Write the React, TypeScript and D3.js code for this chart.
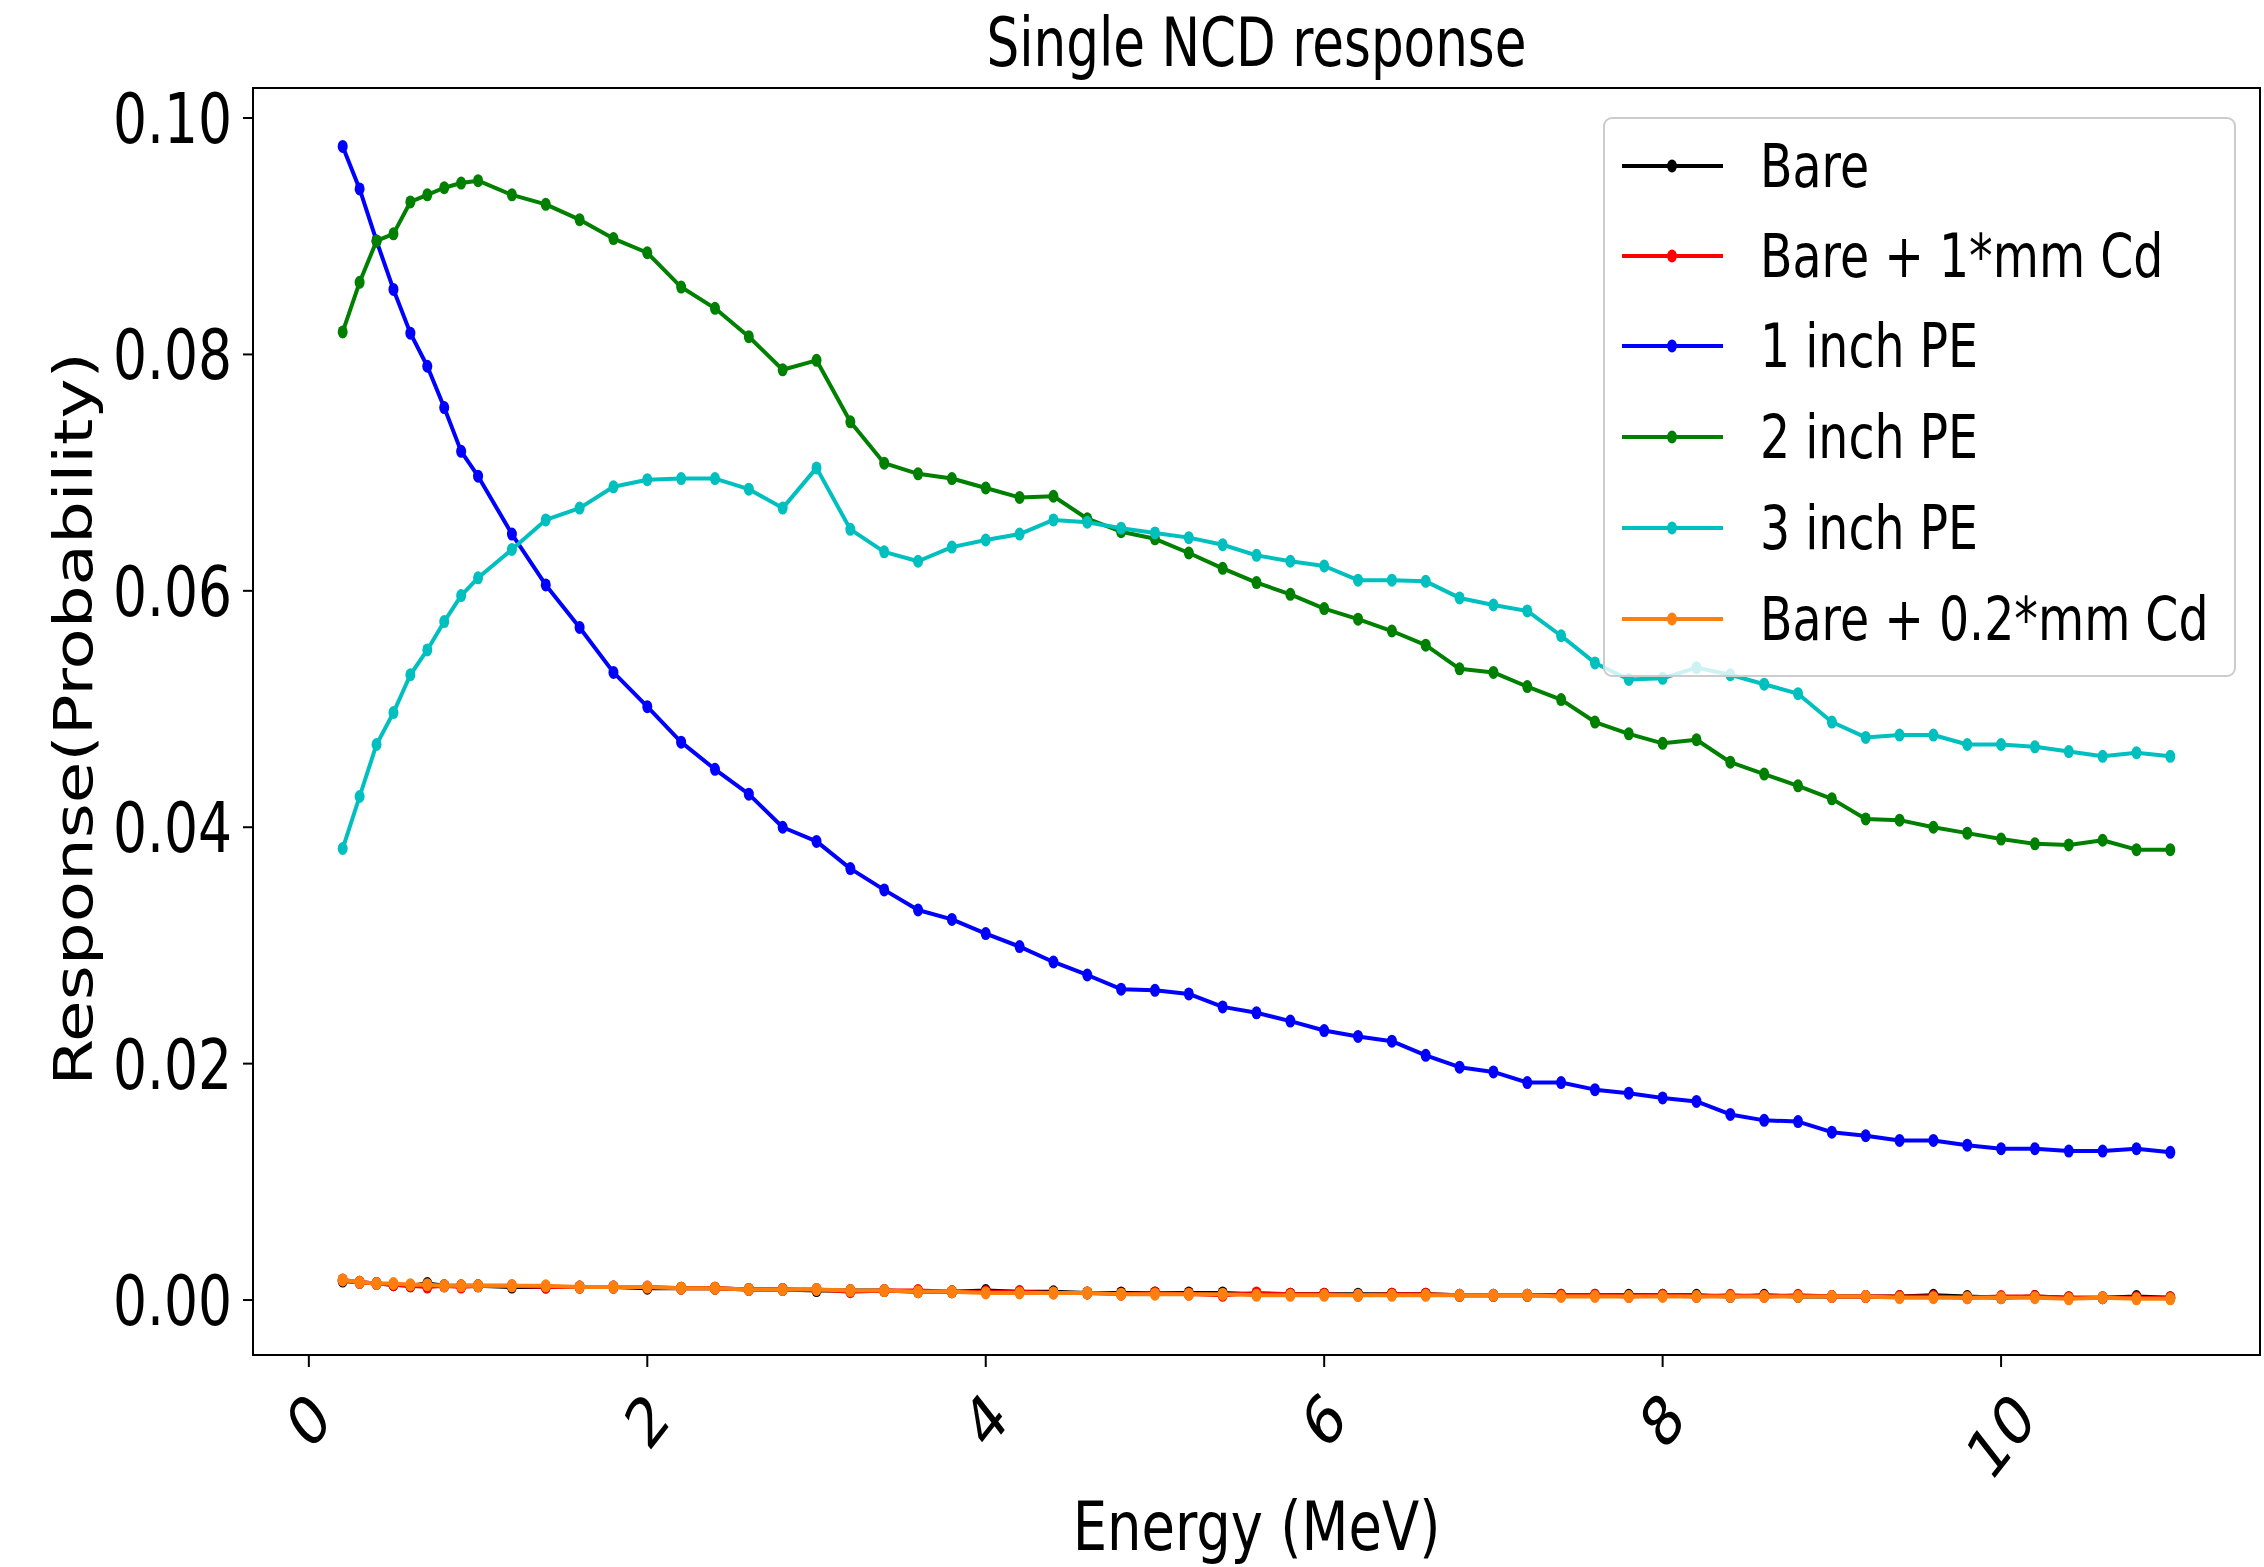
import React from "react";
import * as d3 from "d3";

const energies = [
  0.2, 0.3, 0.4, 0.5, 0.6, 0.7, 0.8, 0.9, 1.0,
  1.2, 1.4, 1.6, 1.8, 2.0, 2.2, 2.4, 2.6, 2.8, 3.0,
  3.2, 3.4, 3.6, 3.8, 4.0, 4.2, 4.4, 4.6, 4.8, 5.0,
  5.2, 5.4, 5.6, 5.8, 6.0, 6.2, 6.4, 6.6, 6.8, 7.0,
  7.2, 7.4, 7.6, 7.8, 8.0, 8.2, 8.4, 8.6, 8.8, 9.0,
  9.2, 9.4, 9.6, 9.8, 10.0, 10.2, 10.4, 10.6, 10.8, 11.0,
];

const bare = [
  0.0016, 0.0015, 0.0014, 0.0013, 0.0012, 0.0014, 0.0012, 0.0012, 0.0012,
  0.0011, 0.0011, 0.0011, 0.0011, 0.0010, 0.0010, 0.0010, 0.0009, 0.0009, 0.0008,
  0.0008, 0.0008, 0.0007, 0.0007, 0.0008, 0.0007, 0.0007, 0.0006, 0.0006, 0.0006,
  0.0006, 0.0006, 0.0005, 0.0005, 0.0005, 0.0005, 0.0005, 0.0005, 0.0004, 0.0004,
  0.0004, 0.0004, 0.0004, 0.0004, 0.0004, 0.0004, 0.0003, 0.0004, 0.0003, 0.0003,
  0.0003, 0.0003, 0.0004, 0.0003, 0.0002, 0.0003, 0.0002, 0.0002, 0.0003, 0.0002,
];

const bareCd1 = [
  0.0017, 0.0015, 0.0014, 0.0013, 0.0012, 0.0011, 0.0012, 0.0011, 0.0012,
  0.0012, 0.0011, 0.0011, 0.0011, 0.0011, 0.0010, 0.0010, 0.0009, 0.0009, 0.0009,
  0.0007, 0.0008, 0.0008, 0.0007, 0.0007, 0.0007, 0.0006, 0.0006, 0.0005, 0.0006,
  0.0005, 0.0004, 0.0006, 0.0005, 0.0005, 0.0004, 0.0005, 0.0005, 0.0004, 0.0004,
  0.0004, 0.0004, 0.0004, 0.0003, 0.0004, 0.0003, 0.0004, 0.0003, 0.0004, 0.0003,
  0.0003, 0.0003, 0.0003, 0.0002, 0.0003, 0.0003, 0.0002, 0.0002, 0.0002, 0.0002,
];

const pe1 = [
  0.0976, 0.0940, 0.0896, 0.0855, 0.0818, 0.0790, 0.0755, 0.0718, 0.0697,
  0.0648, 0.0605, 0.0569, 0.0531, 0.0502, 0.0472, 0.0449, 0.0428, 0.0400, 0.0388,
  0.0365, 0.0347, 0.0330, 0.0322, 0.0310, 0.0299, 0.0286, 0.0275, 0.0263, 0.0262,
  0.0259, 0.0248, 0.0243, 0.0236, 0.0228, 0.0223, 0.0219, 0.0207, 0.0197, 0.0193,
  0.0184, 0.0184, 0.0178, 0.0175, 0.0171, 0.0168, 0.0157, 0.0152, 0.0151, 0.0142,
  0.0139, 0.0135, 0.0135, 0.0131, 0.0128, 0.0128, 0.0126, 0.0126, 0.0128, 0.0125,
];

const pe2 = [
  0.0819, 0.0861, 0.0896, 0.0902, 0.0929, 0.0935, 0.0941, 0.0945, 0.0947,
  0.0935, 0.0927, 0.0914, 0.0898, 0.0886, 0.0857, 0.0839, 0.0815, 0.0787, 0.0795,
  0.0743, 0.0708, 0.0699, 0.0695, 0.0687, 0.0679, 0.0680, 0.0661, 0.0650, 0.0644,
  0.0632, 0.0619, 0.0607, 0.0597, 0.0585, 0.0576, 0.0566, 0.0554, 0.0534, 0.0531,
  0.0519, 0.0508, 0.0489, 0.0479, 0.0471, 0.0474, 0.0455, 0.0445, 0.0435, 0.0424,
  0.0407, 0.0406, 0.0400, 0.0395, 0.0390, 0.0386, 0.0385, 0.0389, 0.0381, 0.0381,
];

const pe3 = [
  0.0382, 0.0426, 0.0470, 0.0497, 0.0529, 0.0550, 0.0574, 0.0596, 0.0611,
  0.0635, 0.0660, 0.0670, 0.0688, 0.0694, 0.0695, 0.0695, 0.0686, 0.0670, 0.0704,
  0.0652, 0.0633, 0.0625, 0.0637, 0.0643, 0.0648, 0.0660, 0.0658, 0.0653, 0.0649,
  0.0645, 0.0639, 0.0630, 0.0625, 0.0621, 0.0609, 0.0609, 0.0608, 0.0594, 0.0588,
  0.0583, 0.0562, 0.0539, 0.0525, 0.0526, 0.0535, 0.0529, 0.0521, 0.0513, 0.0489,
  0.0476, 0.0478, 0.0478, 0.0470, 0.0470, 0.0468, 0.0464, 0.0460, 0.0463, 0.0460,
];

const bareCd02 = [
  0.0017, 0.0015, 0.0014, 0.0014, 0.0013, 0.0013, 0.0012, 0.0012, 0.0012,
  0.0012, 0.0012, 0.0011, 0.0011, 0.0011, 0.0010, 0.0010, 0.0009, 0.0009, 0.0009,
  0.0008, 0.0008, 0.0007, 0.0007, 0.0006, 0.0006, 0.0006, 0.0006, 0.0005, 0.0005,
  0.0005, 0.0005, 0.0004, 0.0004, 0.0004, 0.0004, 0.0004, 0.0004, 0.0004, 0.0004,
  0.0004, 0.0003, 0.0003, 0.0003, 0.0003, 0.0003, 0.0003, 0.0003, 0.0003, 0.0003,
  0.0003, 0.0002, 0.0002, 0.0002, 0.0002, 0.0002, 0.0001, 0.0002, 0.0001, 0.0001,
];

const seriesNames = ["Bare", "Bare + 1*mm Cd", "1 inch PE", "2 inch PE", "3 inch PE", "Bare + 0.2*mm Cd"];
const seriesColors = ["#000000", "#ff0000", "#0000ff", "#008000", "#00bfbf", "#ff7f0e"];
const seriesValues = [bare, bareCd1, pe1, pe2, pe3, bareCd02];

const xTicks = [0, 2, 4, 6, 8, 10];
const yTicks = [0.0, 0.02, 0.04, 0.06, 0.08, 0.1];

const W = 2264;
const H = 1567;
const left = 253, right = 2260, top = 88, bottom = 1355;
const SX = 0.78; // horizontal text compression
const FONT = "DejaVu Sans, sans-serif";
const LW = 4;
const MRX = 5;
const MRY = 6.5;

export default function App() {
  const x = d3.scaleLinear().domain([-0.33, 11.53]).range([left, right]);
  const y = d3.scaleLinear().domain([-0.00465, 0.10254]).range([bottom, top]);
  const line = d3
    .line<[number, number]>()
    .x((d) => x(d[0]))
    .y((d) => y(d[1]));

  const legendRows = [166, 256, 346, 437, 528, 619];

  return (
    <svg
      width={W}
      height={H}
      viewBox={`0 0 ${W} ${H}`}
      style={{ position: "absolute", left: 0, top: 0, background: "#fff" }}
      fontFamily={FONT}
    >
      <rect x={0} y={0} width={W} height={H} fill="#fff" />
      <defs>
        <clipPath id="plotclip">
          <rect x={left} y={top} width={right - left} height={bottom - top} />
        </clipPath>
      </defs>

      {/* series */}
      <g clipPath="url(#plotclip)">
        {seriesValues.map((vals, si) => {
          const pts: [number, number][] = energies.map((e, i) => [e, vals[i]]);
          return (
            <g key={si}>
              <path d={line(pts) || ""} fill="none" stroke={seriesColors[si]} strokeWidth={LW} strokeLinejoin="round" />
              {pts.map((p, i) => (
                <ellipse key={i} cx={x(p[0])} cy={y(p[1])} rx={MRX} ry={MRY} fill={seriesColors[si]} />
              ))}
            </g>
          );
        })}
      </g>

      {/* frame */}
      <rect x={left} y={top} width={right - left} height={bottom - top} fill="none" stroke="#000" strokeWidth={2} />

      {/* y ticks */}
      {yTicks.map((t) => (
        <g key={t}>
          <line x1={left - 10} x2={left} y1={y(t)} y2={y(t)} stroke="#000" strokeWidth={2} />
          <text
            transform={`translate(${232},${y(t) + 25}) scale(${SX},1)`}
            textAnchor="end"
            fontSize={68.6}
            fill="#000"
          >
            {t.toFixed(2)}
          </text>
        </g>
      ))}

      {/* x ticks */}
      {xTicks.map((t) => {
        const label = String(t);
        const V = 68.6;
        const w = label.length * 0.636 * V;
        const h = 0.73 * V;
        const half = (w + h) / (2 * Math.SQRT2);
        const cy = 1388 + half;
        return (
          <g key={t}>
            <line x1={x(t)} x2={x(t)} y1={bottom} y2={bottom + 12} stroke="#000" strokeWidth={2} />
            <text
              transform={`translate(${x(t)},${cy}) scale(${SX},1) rotate(-45)`}
              textAnchor="middle"
              dominantBaseline="central"
              fontSize={V}
              fill="#000"
            >
              {label}
            </text>
          </g>
        );
      })}

      {/* title */}
      <text transform={`translate(${(left + right) / 2},66) scale(0.77,1)`} textAnchor="middle" fontSize={67} fill="#000">
        Single NCD response
      </text>

      {/* x label */}
      <text transform={`translate(${(left + right) / 2},1550) scale(0.8,1)`} textAnchor="middle" fontSize={68} fill="#000">
        Energy (MeV)
      </text>

      {/* y label */}
      <text transform={`translate(92,719) scale(${SX},1) rotate(-90)`} textAnchor="middle" fontSize={67.5} fill="#000">
        Response(Probability)
      </text>

      {/* legend */}
      <rect x={1604} y={118} width={631} height={558} rx={8} ry={8} fill="#fff" fillOpacity={0.8} stroke="#cccccc" strokeWidth={2} />
      {seriesNames.map((name, i) => (
        <g key={name}>
          <line x1={1622} x2={1723} y1={legendRows[i]} y2={legendRows[i]} stroke={seriesColors[i]} strokeWidth={LW} />
          <ellipse cx={1672} cy={legendRows[i]} rx={MRX} ry={MRY} fill={seriesColors[i]} />
          <text
            transform={`translate(1760,${legendRows[i] + 21}) scale(0.79,1)`}
            fontSize={60}
            fill="#000"
          >
            {name}
          </text>
        </g>
      ))}
    </svg>
  );
}
